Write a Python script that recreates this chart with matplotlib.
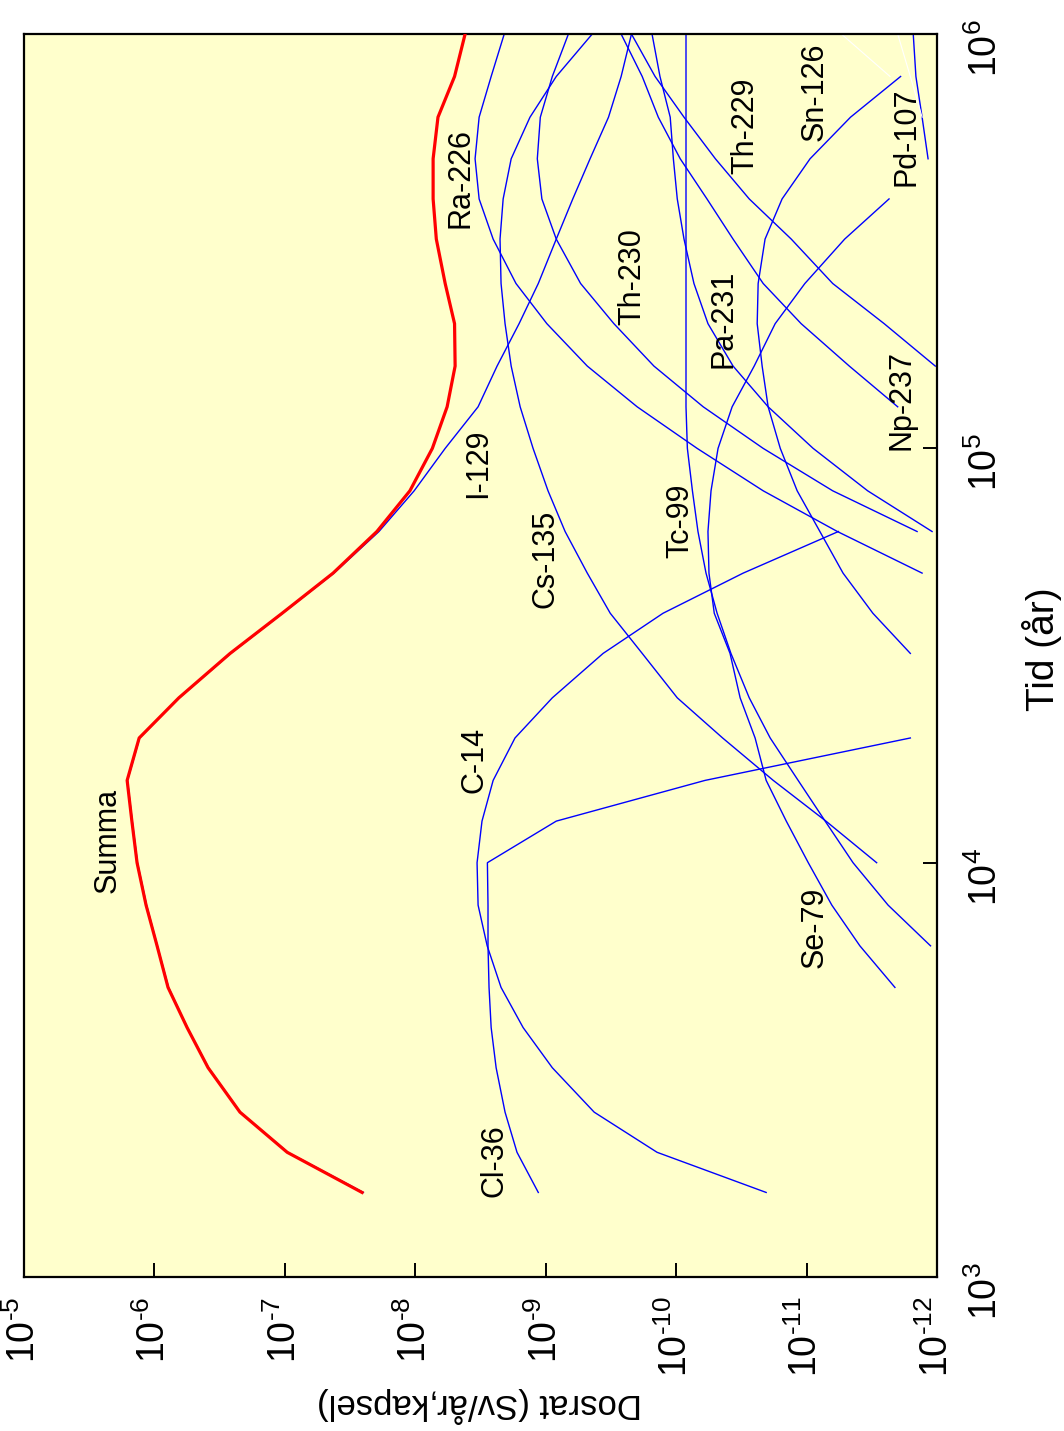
import numpy as np
import matplotlib.pyplot as plt

plt.rcParams['font.family'] = ['Liberation Sans', 'DejaVu Sans']
plt.rcParams['mathtext.fontset'] = 'custom'
plt.rcParams['mathtext.rm'] = 'Liberation Sans'
plt.rcParams['mathtext.it'] = 'Liberation Sans:italic'
plt.rcParams['mathtext.bf'] = 'Liberation Sans:bold'

nan = np.nan

# tidssteg (år), 10 per dekad
tid = [1.6e3, 2.0e3, 2.5e3, 3.2e3, 4.0e3, 5.0e3, 6.3e3, 7.9e3, 1.0e4, 1.26e4,
       1.58e4, 2.0e4, 2.5e4, 3.2e4, 4.0e4, 5.0e4, 6.3e4, 7.9e4, 1.0e5, 1.26e5,
       1.58e5, 2.0e5, 2.5e5, 3.2e5, 4.0e5, 5.0e5, 6.3e5, 7.9e5, 1.0e6]

# dosrat (Sv/år, kapsel) per nuklid
summa = [2.56e-8, 9.6e-8, 2.21e-7, 3.88e-7, 5.62e-7, 7.87e-7, 9.55e-7, 1.16e-6,
         1.36e-6, 1.49e-6, 1.62e-6, 1.31e-6, 6.5e-7, 2.63e-7, 1.05e-7, 4.27e-8,
         1.97e-8, 1.10e-8, 7.4e-9, 5.7e-9, 4.95e-9, 5.0e-9, 5.9e-9, 6.9e-9,
         7.3e-9, 7.3e-9, 6.7e-9, 5.0e-9, 4.15e-9]
i129 = [2.5e-8, 9.5e-8, 2.2e-7, 3.85e-7, 5.6e-7, 7.8e-7, 9.5e-7, 1.15e-6,
        1.35e-6, 1.48e-6, 1.61e-6, 1.3e-6, 6.45e-7, 2.6e-7, 1.04e-7, 4.2e-8,
        1.9e-8, 1.02e-8, 5.9e-9, 3.3e-9, 2.36e-9, 1.6e-9, 1.14e-9, 8.3e-10,
        6.2e-10, 4.57e-10, 3.3e-10, 2.64e-10, 2.2e-10]
c14 = [2.04e-11, 1.4e-10, 4.25e-10, 8.9e-10, 1.49e-9, 2.2e-9, 2.81e-9, 3.3e-9,
       3.36e-9, 3.08e-9, 2.53e-9, 1.72e-9, 8.9e-10, 3.63e-10, 1.26e-10, 3.06e-11,
       5.7e-12] + [nan] * 12
cl36 = [1.14e-9, 1.66e-9, 2.05e-9, 2.4e-9, 2.62e-9, 2.72e-9, 2.77e-9, 2.77e-9,
        2.8e-9, 8.3e-10, 6.0e-11, 1.6e-12] + [nan] * 17
cs135 = [nan] * 8 + [2.9e-12, 7.1e-12, 1.8e-11, 4.4e-11, 9.8e-11, 1.82e-10, 3.2e-10,
                     4.8e-10, 7.1e-10, 9.6e-10, 1.25e-9, 1.57e-9, 1.84e-9, 2.05e-9,
                     2.2e-9, 2.24e-9, 2.12e-9, 1.84e-9, 1.32e-9, 8.3e-10, 4.4e-10]
tc99 = [nan] * 6 + [1.12e-12, 2.37e-12, 4.4e-12, 7.2e-12, 1.16e-11, 1.9e-11, 2.75e-11,
                    3.8e-11, 4.85e-11, 5.9e-11, 6.8e-11, 7.5e-11, 8.2e-11, 8.4e-11,
                    8.4e-11, 8.4e-11, 8.4e-11, 8.4e-11, 8.4e-11, 8.4e-11, 8.4e-11,
                    8.4e-11, 8.4e-11]
se79 = [nan] * 5 + [2.1e-12, 3.9e-12, 6.4e-12, 9.7e-12, 1.43e-11, 2.04e-11, 2.48e-11,
                    3.23e-11, 3.86e-11, 5.1e-11, 5.6e-11, 5.7e-11, 5.4e-11, 4.77e-11,
                    3.72e-11, 2.52e-11, 1.74e-11, 1.03e-11, 5.1e-12, 2.33e-12] + [nan] * 4
sn126 = [nan] * 13 + [1.6e-12, 3.1e-12, 5.25e-12, 7.9e-12, 1.18e-11, 1.59e-11, 1.97e-11,
                      2.19e-11, 2.39e-11, 2.35e-11, 2.08e-11, 1.54e-11, 9.4e-12,
                      4.6e-12, 1.9e-12] + [nan]
ra226 = [nan] * 15 + [1.3e-12, 5.8e-12, 2.15e-11, 6.9e-11, 1.99e-10, 4.8e-10, 9.8e-10,
                      1.69e-9, 2.53e-9, 3.24e-9, 3.48e-9, 3.24e-9, 2.62e-9, 2.08e-9]
th230 = [nan] * 16 + [1.42e-12, 6.3e-12, 2.15e-11, 6.2e-11, 1.48e-10, 3.0e-10, 5.4e-10,
                      8.3e-10, 1.07e-9, 1.16e-9, 1.10e-9, 8.9e-10, 6.7e-10]
pa231 = [nan] * 16 + [1.09e-12, 3.4e-12, 8.9e-12, 1.97e-11, 3.66e-11, 5.7e-11, 7.3e-11,
                      8.7e-11, 9.8e-11, 1.05e-10, 1.11e-10, 1.33e-10, 1.53e-10]
np237 = [nan] * 19 + [2.0e-12, 4.7e-12, 1.1e-11, 2.15e-11, 3.66e-11, 5.8e-11, 9.3e-11,
                      1.37e-10, 1.82e-10, 2.64e-10]
th229 = [nan] * 20 + [1.03e-12, 2.54e-12, 6.3e-12, 1.31e-11, 2.75e-11, 5.0e-11, 8.7e-11,
                      1.45e-10, 2.2e-10]
pd107 = [nan] * 25 + [1.17e-12, 1.3e-12, 1.45e-12, 1.52e-12]
# två svaga vita kurvor i övre högra hörnet
ovrig_1 = [nan] * 27 + [2.29e-12, 5.4e-12]
ovrig_2 = [nan] * 26 + [1.3e-12, 1.6e-12, 2.0e-12]

nuklider = [c14, cl36, cs135, tc99, se79, sn126, ra226, th230, pa231,
            np237, th229, pd107, i129]

# etiketter: namn, dosrat, tid
etiketter = [
    ("Summa", 2.3e-6, 1.13e4),
    ("C-14", 3.5e-9, 1.77e4),
    ("Cl-36", 2.45e-9, 1.91e3),
    ("Se-79", 8.6e-12, 7.0e3),
    ("Cs-135", 1.01e-9, 5.4e4),
    ("Tc-99", 9.3e-11, 6.7e4),
    ("I-129", 3.3e-9, 9.2e4),
    ("Np-237", 1.88e-12, 1.31e5),
    ("Pa-231", 4.3e-11, 2.05e5),
    ("Th-230", 2.17e-10, 2.6e5),
    ("Ra-226", 4.5e-9, 4.5e5),
    ("Th-229", 2.96e-11, 6.0e5),
    ("Sn-126", 8.6e-12, 7.24e5),
    ("Pd-107", 1.7e-12, 5.64e5),
]

dos_ticks = [1e-5, 1e-6, 1e-7, 1e-8, 1e-9, 1e-10, 1e-11, 1e-12]
dos_labels = [r"$10^{\text{-}5}$", r"$10^{\text{-}6}$", r"$10^{\text{-}7}$",
              r"$10^{\text{-}8}$", r"$10^{\text{-}9}$", r"$10^{\text{-}10}$",
              r"$10^{\text{-}11}$", r"$10^{\text{-}12}$"]
tid_ticks = [1e3, 1e4, 1e5, 1e6]
tid_labels = ["$10^{3}$", "$10^{4}$", "$10^{5}$", "$10^{6}$"]

fig = plt.figure(figsize=(10.64, 14.31), dpi=100)
ax = fig.add_axes([0.0226, 0.1076, 0.858, 0.8686])
ax.set_facecolor('#ffffcc')

# figuren är vriden: tid uppåt, dosrat åt vänster
for d in nuklider:
    ax.plot(d, tid, color='#0000ff', lw=1.0)
for d in (ovrig_1, ovrig_2):
    ax.plot(d, tid, color='white', lw=0.8)
ax.plot(summa, tid, color='#ff0000', lw=2.3, zorder=5)

ax.set_xscale('log')
ax.set_yscale('log')
ax.set_xlim(1e-5, 1e-12)
ax.set_ylim(1e3, 1e6)

ax.set_xticks(dos_ticks)
ax.set_xticklabels(dos_labels, rotation=90, fontsize=27)
ax.set_yticks(tid_ticks)
ax.set_yticklabels(tid_labels, rotation=90, fontsize=27)
ax.minorticks_off()
ax.yaxis.tick_right()
ax.tick_params(axis='both', direction='in', length=10, width=1.4)
ax.tick_params(axis='x', pad=14)
ax.tick_params(axis='y', pad=22)
for s in ax.spines.values():
    s.set_linewidth(1.6)

for namn, d, t in etiketter:
    ax.text(d, t, namn, rotation=90, fontsize=22, ha='center', va='center')

fig.text(480 / 1064, 1 - 1405 / 1431, "Dosrat (Sv/år,kapsel)", rotation=180,
         fontsize=25, ha='center', va='center')
fig.text(1042 / 1064, 1 - 649 / 1431, "Tid (år)", rotation=90,
         fontsize=28, ha='center', va='center')

fig.savefig('out.png', dpi=100, facecolor='white')
